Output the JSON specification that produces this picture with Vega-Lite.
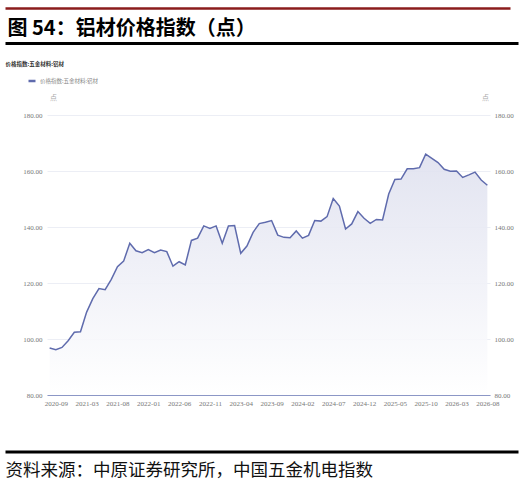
{
  "$schema": "https://vega.github.io/schema/vega-lite/v6.json",
  "width": 443,
  "height": 280,
  "autosize": {"type": "none"},
  "padding": {"left": 47, "top": 115, "right": 38, "bottom": 88},
  "background": "white",
  "config": {"view": {"stroke": null}, "font": "Noto Sans CJK SC"},
  "data": {"values": [
    {"d": "2020-08", "v": 96.8}, {"d": "2020-09", "v": 96.2}, {"d": "2020-10", "v": 97.0}, {"d": "2020-11", "v": 99.4},
    {"d": "2020-12", "v": 102.4}, {"d": "2021-01", "v": 102.6}, {"d": "2021-03", "v": 109.6}, {"d": "2021-04", "v": 114.4},
    {"d": "2021-05", "v": 118.0}, {"d": "2021-06", "v": 117.6}, {"d": "2021-07", "v": 121.3}, {"d": "2021-08", "v": 125.8},
    {"d": "2021-09", "v": 127.8}, {"d": "2021-10", "v": 134.2}, {"d": "2021-11", "v": 131.5}, {"d": "2021-12", "v": 130.8},
    {"d": "2022-01", "v": 131.9}, {"d": "2022-02", "v": 130.8}, {"d": "2022-03", "v": 131.8}, {"d": "2022-04", "v": 131.2},
    {"d": "2022-05", "v": 126.0}, {"d": "2022-06", "v": 127.6}, {"d": "2022-07", "v": 126.5}, {"d": "2022-08", "v": 135.2},
    {"d": "2022-09", "v": 136.0}, {"d": "2022-10", "v": 140.4}, {"d": "2022-11", "v": 139.5}, {"d": "2022-12", "v": 140.4},
    {"d": "2023-01", "v": 134.2}, {"d": "2023-02", "v": 140.4}, {"d": "2023-03", "v": 140.5}, {"d": "2023-04", "v": 130.6},
    {"d": "2023-05", "v": 133.2}, {"d": "2023-06", "v": 138.1}, {"d": "2023-07", "v": 141.2}, {"d": "2023-08", "v": 141.7},
    {"d": "2023-09", "v": 142.3}, {"d": "2023-10", "v": 137.1}, {"d": "2023-11", "v": 136.3}, {"d": "2023-12", "v": 136.2},
    {"d": "2024-01", "v": 138.6}, {"d": "2024-02", "v": 136.0}, {"d": "2024-03", "v": 137.0}, {"d": "2024-04", "v": 142.3},
    {"d": "2024-05", "v": 142.1}, {"d": "2024-06", "v": 143.7}, {"d": "2024-07", "v": 150.2}, {"d": "2024-08", "v": 147.5},
    {"d": "2024-09", "v": 139.3}, {"d": "2024-10", "v": 141.1}, {"d": "2024-11", "v": 145.5}, {"d": "2024-12", "v": 143.1},
    {"d": "2025-01", "v": 141.3}, {"d": "2025-02", "v": 142.7}, {"d": "2025-03", "v": 142.5}, {"d": "2025-04", "v": 151.8},
    {"d": "2025-05", "v": 157.0}, {"d": "2025-06", "v": 157.1}, {"d": "2025-07", "v": 160.8}, {"d": "2025-08", "v": 160.8},
    {"d": "2025-09", "v": 161.2}, {"d": "2025-10", "v": 166.0}, {"d": "2025-11", "v": 164.5}, {"d": "2025-12", "v": 163.0},
    {"d": "2026-01", "v": 160.6}, {"d": "2026-02", "v": 159.9}, {"d": "2026-03", "v": 160.0}, {"d": "2026-04", "v": 157.7},
    {"d": "2026-05", "v": 158.6}, {"d": "2026-06", "v": 159.6}, {"d": "2026-07", "v": 156.8}, {"d": "2026-08", "v": 154.9}
  ]},
  "layer": [
    {
      "mark": {
        "type": "area",
        "line": false,
        "fillOpacity": 0.9,
        "color": {"gradient": "linear", "x1": 0, "y1": 0, "x2": 0, "y2": 1,
          "stops": [{"offset": 0, "color": "#dfe1ef"}, {"offset": 1, "color": "#ffffff"}]}
      },
      "encoding": {
        "x": {"field": "d", "type": "ordinal", "sort": null,
          "scale": {"type": "point", "padding": 0.43},
          "axis": {
            "values": ["2020-09", "2021-03", "2021-08", "2022-01", "2022-06", "2022-11", "2023-04", "2023-09", "2024-02", "2024-07", "2024-12", "2025-05", "2025-10", "2026-03", "2026-08"],
            "labelAngle": 0, "labelFontSize": 7, "labelColor": "#777", "labelFont": "Liberation Sans Narrow",
            "ticks": false, "domainColor": "#8c97c6", "domainWidth": 1, "labelPadding": 4,
            "labelOverlap": false, "title": null, "grid": false
          }
        },
        "y": {"field": "v", "type": "quantitative",
          "scale": {"domain": [80, 180], "nice": false, "zero": false},
          "axis": {
            "orient": "left", "values": [80, 100, 120, 140, 160, 180], "format": ".2f",
            "labelFontSize": 7, "labelColor": "#777", "labelFont": "Liberation Sans Narrow",
            "ticks": false, "domain": false, "grid": true, "gridColor": "#eceef5", "labelPadding": 5,
            "title": "点", "titleAngle": 0, "titleX": 6, "titleY": -18, "titleFontSize": 7,
            "titleColor": "#aaa", "titleFontWeight": "normal", "titleAlign": "center", "titleBaseline": "middle"
          }
        },
        "y2": {"datum": 80}
      }
    },
    {
      "mark": {"type": "line", "strokeWidth": 1.5},
      "encoding": {
        "x": {"field": "d", "type": "ordinal", "sort": null,
          "scale": {"type": "point", "padding": 0.43}, "axis": null},
        "y": {"field": "v", "type": "quantitative",
          "scale": {"domain": [80, 180], "nice": false, "zero": false},
          "axis": {
            "orient": "right", "values": [80, 100, 120, 140, 160, 180], "format": ".2f",
            "labelFontSize": 7, "labelColor": "#777", "labelFont": "Liberation Sans Narrow",
            "ticks": false, "domain": false, "grid": false, "labelPadding": 4,
            "title": "点", "titleAngle": 0, "titleX": -5, "titleY": -18, "titleFontSize": 7,
            "titleColor": "#aaa", "titleFontWeight": "normal", "titleAlign": "center", "titleBaseline": "middle"
          }
        },
        "color": {"datum": "价格指数:五金材料:铝材", "type": "nominal",
          "scale": {"range": ["#5f6bad"]},
          "legend": {
            "orient": "none", "legendX": -20, "legendY": -39, "title": null,
            "symbolType": "stroke", "symbolStrokeWidth": 2.5, "symbolSize": 49,
            "labelFontSize": 5.5, "labelColor": "#888", "labelFont": "Noto Sans CJK SC",
            "padding": 0, "labelOffset": 3
          }
        }
      }
    },
    {
      "data": {"values": [{}]},
      "mark": {"type": "point", "opacity": 0},
      "encoding": {
        "x": {"datum": 0, "type": "quantitative",
          "scale": {"domain": [0, 1], "range": [-42, 463]},
          "axis": {
            "orient": "top", "offset": 107, "domainColor": "#8b1c1c", "domainWidth": 2.5,
            "ticks": false, "labels": false, "grid": false,
            "title": "价格指数:五金材料:铝材", "titleX": -42, "titleY": 55, "titleAlign": "left",
            "titleBaseline": "middle", "titleFontSize": 5.5, "titleFontWeight": "bold", "titleColor": "#333",
            "titleAngle": 0, "titleFont": "Noto Sans CJK SC"
          }
        }
      }
    },
    {
      "data": {"values": [{}]},
      "mark": {"type": "point", "opacity": 0},
      "encoding": {
        "x": {"datum": 0, "type": "quantitative",
          "scale": {"domain": [0, 1], "range": [-42, 471]},
          "axis": {
            "orient": "top", "offset": 72, "domainColor": "#000000", "domainWidth": 3,
            "ticks": false, "labels": false, "grid": false,
            "title": "图 54：铝材价格指数（点）", "titleX": -40, "titleY": -15, "titleAlign": "left",
            "titleBaseline": "middle", "titleFontSize": 20, "titleFontWeight": "bold", "titleColor": "#000",
            "titleAngle": 0, "titleFont": "Noto Sans CJK SC"
          }
        }
      }
    },
    {
      "data": {"values": [{}]},
      "mark": {"type": "point", "opacity": 0},
      "encoding": {
        "x": {"datum": 0, "type": "quantitative",
          "scale": {"domain": [0, 1], "range": [-42, 471]},
          "axis": {
            "orient": "bottom", "offset": 56.5, "domainColor": "#000000", "domainWidth": 3,
            "ticks": false, "labels": false, "grid": false,
            "title": "资料来源：中原证券研究所，中国五金机电指数", "titleX": -42, "titleY": 19, "titleAlign": "left",
            "titleBaseline": "middle", "titleFontSize": 17.5, "titleFontWeight": "normal", "titleColor": "#111",
            "titleAngle": 0, "titleFont": "Noto Sans CJK SC"
          }
        }
      }
    }
  ],
  "resolve": {"scale": {"x": "independent"}, "axis": {"y": "independent"}}
}
